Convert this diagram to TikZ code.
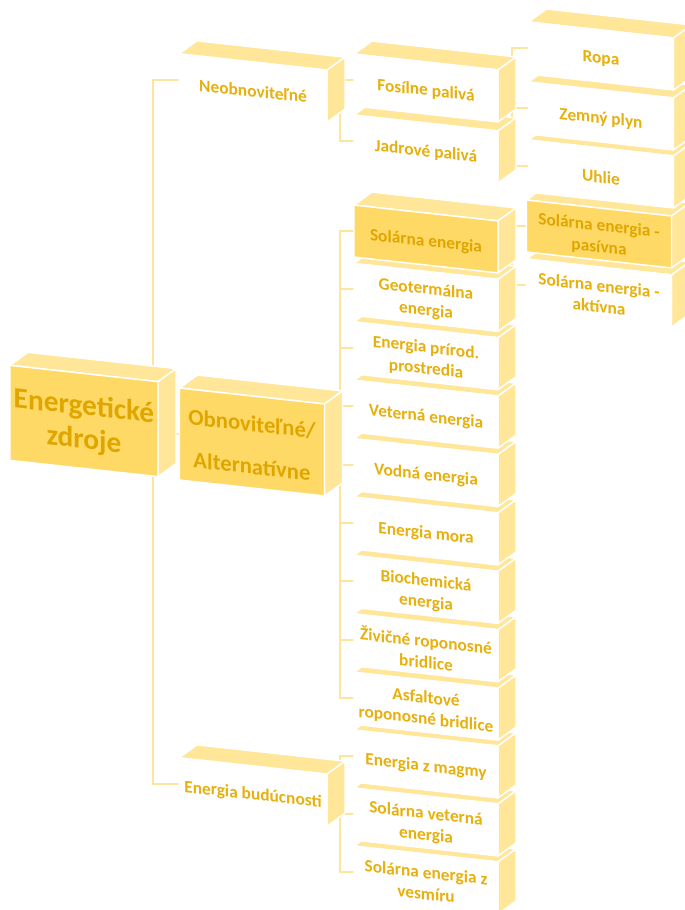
\documentclass[tikz,border=0pt]{standalone}
\usepackage{fontspec}
\setmainfont{Carlito}
\pgfdeclarelayer{bg}
\pgfsetlayers{bg,main}
\definecolor{gold}{RGB}{255,217,102}
\definecolor{lgold}{RGB}{255,230,153}
\definecolor{txtw}{RGB}{232,176,12}
\definecolor{txtg}{RGB}{224,166,0}
\definecolor{conncol}{RGB}{255,228,158}
\tikzset{
  face/.style={draw=white, line width=1.1pt, line join=round},
  connector/.style={draw=conncol, line width=1.5pt},
  small/.style={font=\bfseries\fontsize{13}{16}\selectfont},
}
\newcommand{\cbox}[9]{%
\begin{scope}[shift={(#2,#3)}, yslant=-0.11]
  \pgfmathsetmacro\hw{#4/2}\pgfmathsetmacro\hh{#5/2}
  \filldraw[face, fill=lgold] (-\hw,-\hh) -- ++(18,-15) -- ++(#4,0) -- (\hw,-\hh) -- cycle;
  \filldraw[face, fill=lgold] (\hw,-\hh) -- ++(18,-15) -- ++(0,#5) -- (\hw,\hh) -- cycle;
  \filldraw[face, fill=#6] (-\hw,-\hh) rectangle (\hw,\hh);
  \node[transform shape, text=#7, align=center, #8] (#1) at (0,3) {#9};
  \coordinate (#1-in) at (-\hw,0);
  \coordinate (#1-c) at (0,0);
\end{scope}}
\begin{document}
\begin{tikzpicture}[x=0.75pt, y=-0.75pt]
\useasboundingbox (0,0) rectangle (685,910);
\clip (0,0) rectangle (685,910);
\coordinate (b1) at (153,0);
\coordinate (b2) at (340,0);
\coordinate (b3) at (512,0);
% level 0
\cbox{root}{84}{421}{148}{95}{gold}{txtg}{font=\bfseries\fontsize{22}{25}\selectfont}{Energetické\\zdroje}
% level 1
\cbox{bud}{253}{792}{148}{52}{white}{txtw}{small}{Energia budúcnosti}
\cbox{obn}{252}{442}{145}{92}{gold}{txtg}{font=\bfseries\fontsize{17}{32}\selectfont}{Obnoviteľné/\\Alternatívne}
\cbox{neo}{253}{88}{148}{52}{white}{txtw}{small}{Neobnoviteľné}
% level 2 (drawn from bottom to top)
\cbox{vesm}{426}{880}{144}{52}{white}{txtw}{small}{Solárna energia z\\vesmíru}
\cbox{svet}{426}{822}{144}{52}{white}{txtw}{small}{Solárna veterná\\energia}
\cbox{mag}{426}{764}{144}{52}{white}{txtw}{small}{Energia z magmy}
\cbox{asf}{426}{706.2}{144}{52}{white}{txtw}{small}{Asfaltové\\roponosné bridlice}
\cbox{ziv}{426}{647.8}{144}{52}{white}{txtw}{small}{Živičné roponosné\\bridlice}
\cbox{bio}{426}{589.4}{144}{52}{white}{txtw}{small}{Biochemická\\energia}
\cbox{mor}{426}{531}{144}{52}{white}{txtw}{small}{Energia mora}
\cbox{vod}{426}{472.6}{144}{52}{white}{txtw}{small}{Vodná energia}
\cbox{vet}{426}{414.2}{144}{52}{white}{txtw}{small}{Veterná energia}
\cbox{pri}{426}{355.8}{144}{52}{white}{txtw}{small}{Energia prírod.\\prostredia}
\cbox{geo}{426}{297.4}{144}{52}{white}{txtw}{small}{Geotermálna\\energia}
\cbox{sol}{426}{239}{144}{52}{gold}{txtg}{small}{Solárna energia}
\cbox{jad}{426}{149}{144}{52}{white}{txtw}{small}{Jadrové palivá}
\cbox{fos}{426}{88}{144}{52}{white}{txtw}{small}{Fosílne palivá}
% level 3 (drawn from bottom to top)
\cbox{akt}{599}{293}{145}{52}{white}{txtw}{small}{Solárna energia -\\aktívna}
\cbox{pas}{599}{234}{145}{52}{gold}{txtg}{small}{Solárna energia -\\pasívna}
\cbox{uhl}{601}{174}{145}{52}{white}{txtw}{small}{Uhlie}
\cbox{zem}{601}{116}{145}{52}{white}{txtw}{small}{Zemný plyn}
\cbox{ropa}{601}{56}{145}{52}{white}{txtw}{small}{Ropa}
% connectors
\begin{pgfonlayer}{bg}
\foreach \ch in {neo,obn,bud}
  \draw[connector] (root-c) -- (root-c -| b1) |- (\ch-in);
\foreach \ch in {fos,jad}
  \draw[connector] (neo-c) -- (neo-c -| b2) |- (\ch-in);
\foreach \ch in {sol,geo,pri,vet,vod,mor,bio,ziv,asf}
  \draw[connector] (obn-c) -- (obn-c -| b2) |- (\ch-in);
\foreach \ch in {mag,svet,vesm}
  \draw[connector] (bud-c) -- (bud-c -| b2) |- (\ch-in);
\foreach \ch in {ropa,zem,uhl}
  \draw[connector] (fos-c) -- (fos-c -| b3) |- (\ch-in);
\foreach \ch in {pas,akt}
  \draw[connector] (sol-c) -- (sol-c -| b3) |- (\ch-in);
\end{pgfonlayer}
\end{tikzpicture}
\end{document}
